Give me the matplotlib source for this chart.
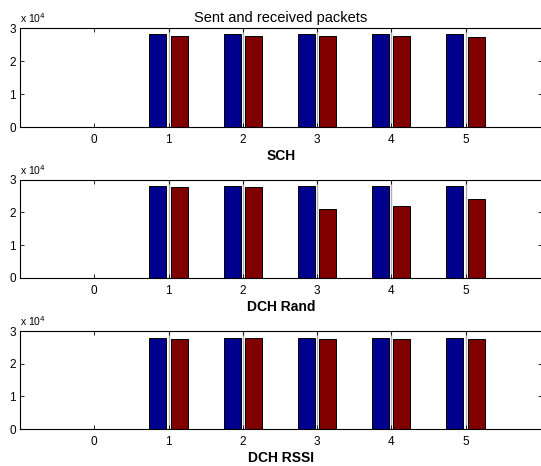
import numpy as np
import matplotlib
matplotlib.use('Agg')
import matplotlib.pyplot as plt

plt.rcParams['font.family'] = ['Liberation Sans', 'DejaVu Sans']

x = np.arange(0, 6)
names = ['SCH', 'DCH Rand', 'DCH RSSI']
sent = [
    [120, 28100, 28100, 28100, 28100, 28100],
    [120, 28000, 28000, 28000, 28000, 28000],
    [120, 28000, 28000, 28000, 28000, 28000],
]
received = [
    [120, 27500, 27600, 27500, 27500, 27400],
    [120, 27700, 27800, 21100, 21800, 24200],
    [120, 27700, 27900, 27600, 27700, 27400],
]

W, H = 541, 466
fig = plt.figure(figsize=(W / 100, H / 100), dpi=100)

# panel pixel positions (top, bottom)
panels = [(28, 127), (179.5, 278), (331, 429)]
left, right = 20, 542

blue = '#00008f'
red = '#800000'
bw = 0.229
off = 0.143

for i, (top, bot) in enumerate(panels):
    ax = fig.add_axes([left / W, 1 - bot / H, (right - left) / W, (bot - top) / H])
    ax.bar(x - off, sent[i], bw, color=blue, edgecolor='black', linewidth=0.7, zorder=2)
    ax.bar(x + off, received[i], bw, color=red, edgecolor='black', linewidth=0.7, zorder=2)
    for xi in x[1:]:
        ax.plot([xi, xi], [0, 30000], color='#b0b0b0', lw=1, zorder=1)
    ax.set_xlim(-1, 6.03)
    ax.set_ylim(0, 30000)
    ax.set_xticks(x)
    ax.set_xticklabels([str(v) for v in x], fontsize=8.5)
    ax.set_yticks([0, 10000, 20000, 30000])
    ax.set_yticklabels(['0', '1', '2', '3'], fontsize=8.5)
    ax.tick_params(direction='in', length=3, width=0.6, top=True, right=True, pad=5)
    ax.tick_params(axis='y', pad=3)
    for s in ax.spines.values():
        s.set_linewidth(0.8)
    ax.set_xlabel(names[i], fontsize=10, fontweight='bold', labelpad=2)
    ax.text(0.0, 1.03, r'x 10$^4$', transform=ax.transAxes, fontsize=7.5, ha='left', va='bottom')
    if i == 0:
        ax.set_title('Sent and received packets', fontsize=10.5, pad=4)

fig.savefig('out.png', dpi=100)
